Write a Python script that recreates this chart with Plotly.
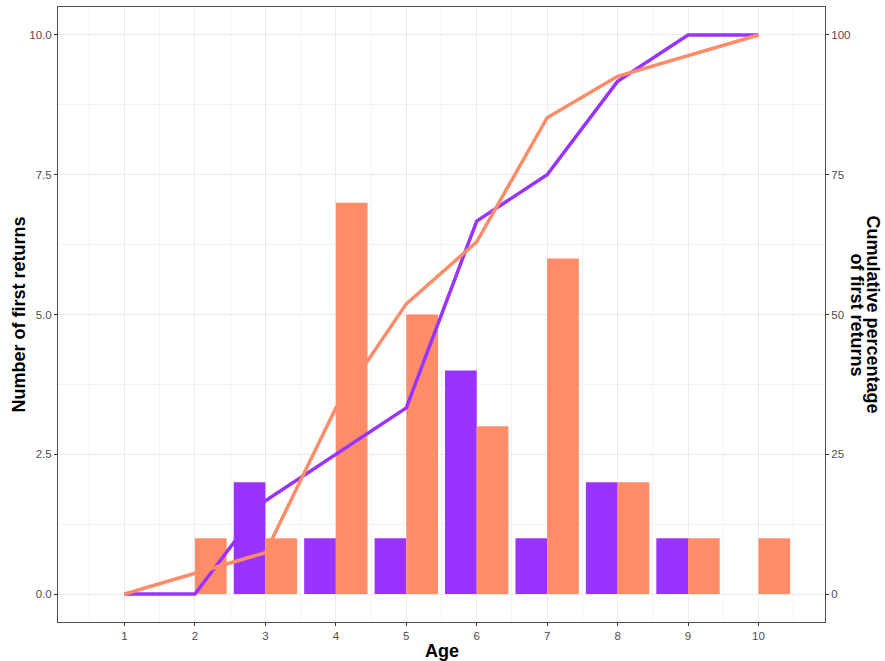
import plotly.graph_objects as go

ages = [1, 2, 3, 4, 5, 6, 7, 8, 9, 10]
count_purple = [0, 0, 2, 1, 1, 4, 1, 2, 1, 0]
count_orange = [0, 1, 1, 7, 5, 3, 6, 2, 1, 1]
cum_purple = [0, 0, 16.7, 25.0, 33.3, 66.7, 75.0, 91.7, 100, 100]
cum_orange = [0, 3.7, 7.4, 33.3, 51.9, 63.0, 85.2, 92.6, 96.3, 100]
left_ticks = [0, 2.5, 5, 7.5, 10]
left_labels = ["0.0", "2.5", "5.0", "7.5", "10.0"]
right_ticks = [0, 25, 50, 75, 100]

PURPLE = "#9933FF"
ORANGE = "#FF8C69"
FONT = "Liberation Sans, Arial, sans-serif"

fig = go.Figure()
fig.add_trace(go.Bar(x=ages, y=count_purple, marker=dict(color=PURPLE, line=dict(width=0)),
                     showlegend=False))
fig.add_trace(go.Bar(x=ages, y=count_orange, marker=dict(color=ORANGE, line=dict(width=0)),
                     showlegend=False))
fig.add_trace(go.Scatter(x=ages, y=cum_purple, yaxis="y2", mode="lines",
                         line=dict(color=PURPLE, width=3.5), showlegend=False))
fig.add_trace(go.Scatter(x=ages, y=cum_orange, yaxis="y2", mode="lines",
                         line=dict(color=ORANGE, width=3.5), showlegend=False))

axis_common = dict(
    showline=True, linecolor="#4d4d4d", linewidth=1,
    ticks="outside", ticklen=3, tickcolor="#333333", tickwidth=1,
    tickfont=dict(family=FONT, size=11.5, color="#4D4D4D"),
    gridcolor="#EBEBEB", gridwidth=1, zeroline=False,
)

title_font = dict(family=FONT, size=18, color="black")

fig.update_layout(
    width=885, height=661,
    margin=dict(l=58, r=60, t=7, b=39),
    plot_bgcolor="white", paper_bgcolor="white",
    barmode="group", bargap=0.1, bargroupgap=0,
    xaxis=dict(range=[0.055, 10.945], tickvals=ages, mirror=True,
               minor=dict(dtick=0.5, tick0=0.5, showgrid=True, gridcolor="#F2F2F2", ticks=""),
               **axis_common),
    yaxis=dict(range=[-0.5, 10.5], tickvals=left_ticks, ticktext=left_labels, mirror=True,
               minor=dict(dtick=1.25, tick0=0, showgrid=True, gridcolor="#F2F2F2", ticks=""),
               **axis_common),
    yaxis2=dict(range=[-5, 105], tickvals=right_ticks, overlaying="y", side="right",
                showgrid=False, showline=True, linecolor="#4d4d4d",
                ticks="outside", ticklen=3, tickcolor="#333333",
                tickfont=dict(family=FONT, size=11.5, color="#4D4D4D"), zeroline=False),
    annotations=[
        dict(text="<b>Age</b>", x=0.5, y=0, xref="paper", yref="paper",
             yshift=-29, yanchor="middle", showarrow=False, font=title_font),
        dict(text="<b>Number of first returns</b>", x=0, y=0.5, xref="paper", yref="paper",
             xshift=-40, textangle=-90, xanchor="center", showarrow=False, font=title_font),
        dict(text="<b>Cumulative percentage</b>", x=1, y=0.5,
             xref="paper", yref="paper", xshift=48, textangle=90, xanchor="center",
             showarrow=False, font=title_font),
        dict(text="<b>of first returns</b>", x=1, y=0.5,
             xref="paper", yref="paper", xshift=32, textangle=90, xanchor="center",
             showarrow=False, font=title_font),
    ],
)

fig.write_html("out.html", config={"displayModeBar": False},
               post_script="document.body.style.margin='0';")
